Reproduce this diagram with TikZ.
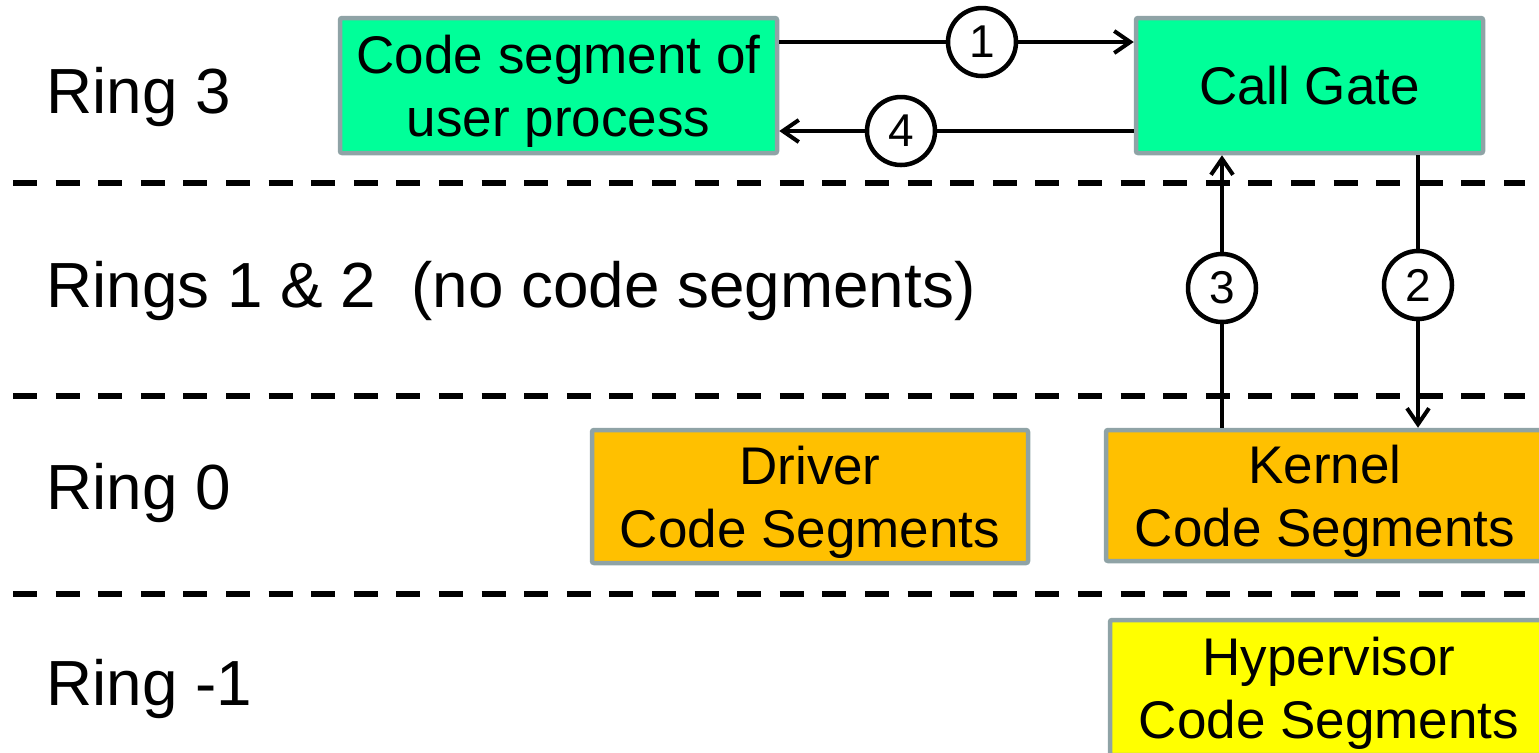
\documentclass[tikz,border=0pt]{standalone}
\usepackage{fontspec}
\setmainfont{Liberation Sans}
\usetikzlibrary{arrows.meta}
\definecolor{usercol}{HTML}{00FF99}
\definecolor{ringzero}{HTML}{FFC000}
\definecolor{hypcol}{HTML}{FFFF00}
\definecolor{edgecol}{HTML}{8FA3A6}
\begin{document}
\begin{tikzpicture}[x=0.5pt,y=-0.5pt,
  seg/.style={draw=edgecol, line width=2.25pt, rounded corners=1pt, align=center,
    inner sep=0pt, font=\fontsize{26.5}{31.5}\selectfont, text height=50.5pt, text depth=0pt},
  ringlabel/.style={anchor=base west, inner sep=0pt, font=\fontsize{31.9}{38}\selectfont},
  numcirc/.style={circle, draw, fill=white, line width=2.25pt, minimum size=34pt,
    inner sep=0pt, font=\fontsize{23}{27}\selectfont},
  arr/.style={line width=2pt, -{Straight Barb[length=8pt,width=11pt]}},
  divider/.style={line width=3pt, dash pattern=on 12pt off 9.3pt}
]
\useasboundingbox (0,0) rectangle (1539,752);
\clip (0,0) rectangle (1539,752);

% ring dividers
\draw[divider] (13,183) -- (1525,183);
\draw[divider] (13,396) -- (1525,396);
\draw[divider] (13,594) -- (1525,594);

% ring labels
\node[ringlabel] (r3) at (46,113) {Ring 3};
\node[ringlabel] (r12) at (46,307) {Rings 1 \& 2\ \ (no code segments)};
\node[ringlabel] (r0) at (46,509) {Ring 0};
\node[ringlabel] (rm1) at (46,705) {Ring -1};

% boxes
\node[seg, fill=usercol, minimum width=218.5pt, minimum height=67.5pt] (code) at (558.5,85.5) {Code segment of\\user process};
\node[seg, fill=usercol, minimum width=173.5pt, minimum height=67.5pt, text height=19pt] (gate) at (1309.5,85.5) {Call Gate};
\node[seg, fill=ringzero, minimum width=218pt, minimum height=66.5pt] (driver) at (810,496.5) {Driver\\Code Segments};
\node[seg, fill=ringzero, minimum width=219pt, minimum height=65.5pt] (kernel) at (1325,495.5) {Kernel\\Code Segments};
\node[seg, fill=hypcol, minimum width=219pt, minimum height=67.5pt] (hyper) at (1329,687.5) {Hypervisor\\Code Segments};

% step circles
\node[numcirc] (c1) at (982,42) {1};
\node[numcirc] (c4) at (901,131) {4};
\node[numcirc] (c3) at (1222,288) {3};
\node[numcirc] (c2) at (1418,285) {2};

% connectors
\draw[arr] (code.east |- c1) -- (c1) -- (gate.west |- c1);
\draw[arr] (gate.south -| c2) -- (c2) -- (kernel.north -| c2);
\draw[arr] (kernel.north -| c3) -- (c3) -- (gate.south -| c3);
\draw[arr] (gate.west |- c4) -- (c4) -- (code.east |- c4);
\end{tikzpicture}
\end{document}
